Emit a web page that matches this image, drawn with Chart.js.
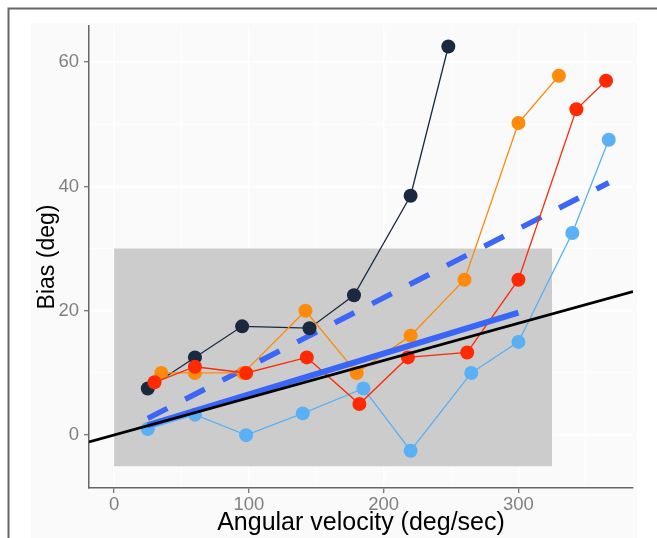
<!DOCTYPE html>
<html>
<head>
<meta charset="utf-8">
<script src="https://cdn.jsdelivr.net/npm/chart.js@4"></script>
<style>
  html, body { margin: 0; padding: 0; background: #fff; }
  canvas { display: block; }
</style>
</head>
<body>
<canvas id="chart" width="657" height="538"></canvas>
<script>
// angular velocity (deg/sec) and bias (deg) for each series
const navyX = [25, 60, 95, 145, 178, 220, 248];
const navyY = [7.5, 12.5, 17.5, 17.2, 22.5, 38.5, 62.5];

const orangeX = [35, 60, 96, 142, 180, 220, 260, 300, 330];
const orangeY = [10, 10, 10, 20, 10, 16, 25, 50.2, 57.8];

const redX = [30, 60, 98, 143, 182, 218, 262, 300, 343, 365];
const redY = [8.5, 11, 10, 12.5, 5, 12.5, 13.3, 25, 52.4, 57];

const lightX = [25, 60, 98, 140, 185, 220, 265, 300, 340, 367];
const lightY = [1, 3.3, 0, 3.5, 7.5, -2.5, 10, 15, 32.5, 47.5];

// reference lines
const blackX = [-18.6, 385];
const blackY = [-1.1, 23.1];
const fitX = [25, 300];
const fitY = [1.6, 19.7];
const dashX = [25, 367];
const dashY = [2.7, 40.6];

// shaded range
const rectX = [0, 325];
const rectTop = [30, 30];
const rectBottom = [-5, -5];

// ticks
const xTicks = [0, 50, 100, 150, 200, 250, 300, 350];
const xLabels = [0, 100, 200, 300];
const yTicks = [0, 10, 20, 30, 40, 50, 60];
const yLabels = [0, 20, 40, 60];

const pts = (xs, ys) => xs.map((x, i) => ({ x: x, y: ys[i] }));
const FONT = "'Liberation Sans', Helvetica, Arial, sans-serif";

function series(xs, ys, color, order) {
  return {
    data: pts(xs, ys),
    borderColor: color,
    backgroundColor: color,
    borderWidth: 1.3,
    pointRadius: 7,
    pointBorderWidth: 0,
    pointBackgroundColor: color,
    order: order
  };
}

function refLine(xs, ys, color, width, order, dash) {
  return {
    data: pts(xs, ys),
    borderColor: color,
    borderWidth: width,
    borderDash: dash || [],
    borderCapStyle: 'butt',
    pointRadius: 0,
    order: order
  };
}

const panelBg = {
  id: 'panelBg',
  beforeDraw(chart) {
    const ctx = chart.ctx;
    ctx.save();
    ctx.fillStyle = '#ffffff';
    ctx.fillRect(0, 0, chart.width, chart.height);
    ctx.fillStyle = '#fafafa';
    ctx.fillRect(31, 23, 606, chart.height - 23);
    ctx.strokeStyle = '#666666';
    ctx.lineWidth = 2;
    ctx.beginPath();
    ctx.moveTo(8.5, chart.height + 2);
    ctx.lineTo(8.5, 8.5);
    ctx.lineTo(chart.width + 2, 8.5);
    ctx.stroke();
    ctx.restore();
  }
};

new Chart('chart', {
  type: 'line',
  data: {
    datasets: [
      { data: pts(rectX, rectTop), fill: '+1', backgroundColor: '#cccccc', borderWidth: 0, pointRadius: 0, order: 8 },
      { data: pts(rectX, rectBottom), fill: false, borderWidth: 0, pointRadius: 0, order: 9 },
      refLine(dashX, dashY, '#3c66f6', 5.5, 6, [22, 20]),
      series(navyX, navyY, '#1a2940', 5),
      series(lightX, lightY, '#59b0f5', 4),
      series(orangeX, orangeY, '#fd8a0a', 3),
      series(redX, redY, '#fd2a04', 2),
      refLine(fitX, fitY, '#3a66f7', 6, 1),
      refLine(blackX, blackY, '#000000', 2.7, 0)
    ]
  },
  options: {
    responsive: false,
    devicePixelRatio: 1,
    animation: false,
    layout: { padding: { top: 26, right: 24, bottom: 0, left: 0 } },
    plugins: { legend: { display: false }, tooltip: { enabled: false } },
    scales: {
      x: {
        type: 'linear',
        min: -18.6,
        max: 385,
        afterBuildTicks: (axis) => { axis.ticks = xTicks.map(v => ({ value: v })); },
        afterFit: (axis) => { axis.height = 50; },
        ticks: {
          autoSkip: false,
          maxRotation: 0,
          padding: 1,
          color: '#808080',
          font: { family: FONT, size: 18.5 },
          callback: (v) => xLabels.includes(v) ? String(v) : ''
        },
        grid: {
          color: '#ffffff',
          lineWidth: (c) => xLabels.includes(c.tick.value) ? 1.4 : 0.7,
          tickLength: 5,
          tickColor: (c) => xLabels.includes(c.tick.value) ? '#777777' : 'rgba(0,0,0,0)',
          tickWidth: 1.3
        },
        border: { display: true, color: '#666666', width: 1.5 },
        title: {
          display: true,
          text: 'Angular velocity (deg/sec)',
          color: '#000000',
          font: { family: FONT, size: 25 },
          padding: { top: 0, bottom: 0 }
        }
      },
      y: {
        type: 'linear',
        min: -8.5,
        max: 65.8,
        afterBuildTicks: (axis) => { axis.ticks = yTicks.map(v => ({ value: v })); },
        afterFit: (axis) => { axis.width = 89; },
        ticks: {
          autoSkip: false,
          padding: 5,
          color: '#808080',
          font: { family: FONT, size: 18.5 },
          callback: (v) => yLabels.includes(v) ? String(v) : ''
        },
        grid: {
          color: '#ffffff',
          lineWidth: (c) => yLabels.includes(c.tick.value) ? 1.4 : 0.7,
          tickLength: 5,
          tickColor: (c) => yLabels.includes(c.tick.value) ? '#777777' : 'rgba(0,0,0,0)',
          tickWidth: 1.3
        },
        border: { display: true, color: '#666666', width: 1.5 },
        title: {
          display: true,
          text: 'Bias (deg)',
          color: '#000000',
          font: { family: FONT, size: 23 },
          padding: { top: 34, bottom: 0 }
        }
      }
    }
  },
  plugins: [panelBg]
});
</script>
</body>
</html>
